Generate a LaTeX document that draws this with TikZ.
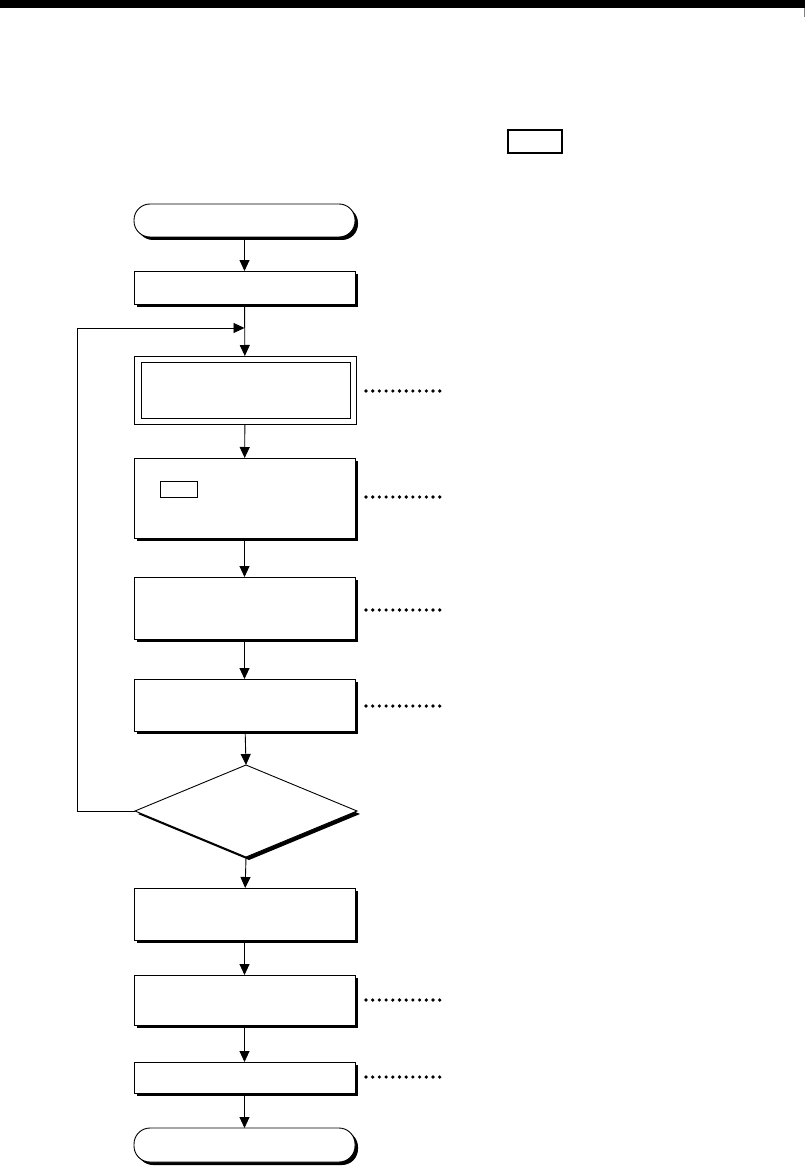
\documentclass[tikz,border=0pt]{standalone}
\usetikzlibrary{shapes.geometric,shadows,arrows.meta}
\begin{document}
\begin{tikzpicture}[x=1pt,y=-1pt,
  box/.style={draw=black,fill=white,line width=0.9pt,rectangle,inner sep=0pt,outer sep=0pt,minimum width=221pt,
    drop shadow={shadow xshift=3pt,shadow yshift=-3pt,fill=black,opacity=1}},
  term/.style={box,rounded corners=16pt},
  frame/.style={draw=black,fill=white,line width=0.9pt,rectangle,inner sep=0pt,outer sep=0pt},
  dec/.style={draw=black,fill=white,line width=0.9pt,diamond,inner sep=0pt,outer sep=0pt,minimum width=222pt,minimum height=92pt,
    drop shadow={shadow xshift=3pt,shadow yshift=-3pt,fill=black,opacity=1}},
  flow/.style={line width=0.9pt,-{Triangle[width=10pt,length=11pt]}}
]
\useasboundingbox[fill=white] (0,0) rectangle (805,1166);
% header bar
\fill[black] (0,0) rectangle (805,8);
\draw[gray,line width=0.8pt] (804,8) -- (804,17);
% small key box top right
\node[draw=black,line width=2pt,inner sep=0pt,minimum width=54pt,minimum height=23pt] (key) at (534.5,142) {};
% flow nodes
\node[term,minimum height=33pt] (start) at (244.5,220.5) {};
\node[box,minimum height=33pt] (b1) at (244.5,287.5) {};
\node[frame,minimum width=222pt,minimum height=68pt] (b2) at (245,390) {};
\node[frame,minimum width=209pt,minimum height=56pt] (b2i) at (245.5,390) {};
\node[box,minimum height=80pt] (b3) at (244.5,498) {};
\node[draw=black,line width=0.7pt,inner sep=0pt,minimum width=37pt,minimum height=16pt] (b3k) at (178.5,489) {};
\node[box,minimum height=62pt] (b4) at (244.5,608) {};
\node[box,minimum height=52pt] (b5) at (244.5,705) {};
\node[dec] (d) at (246,811) {};
\node[box,minimum height=52pt] (b6) at (244.5,914) {};
\node[box,minimum height=50pt] (b7) at (244.5,1000) {};
\node[box,minimum height=31pt] (b8) at (244.5,1077.5) {};
\node[term,minimum height=34pt] (end) at (244.5,1145) {};
% connectors
\draw[flow] (start) -- (b1);
\draw[flow] (b1) -- (b2);
\draw[flow] (b2) -- (b3);
\draw[flow] (b3) -- (b4);
\draw[flow] (b4) -- (b5);
\draw[flow] (b5) -- (d.north);
\draw[flow] (d.south) -- (b6);
\draw[flow] (b6) -- (b7);
\draw[flow] (b7) -- (b8);
\draw[flow] (b8) -- (end);
\coordinate (loopin) at (244.5,328);
\draw[flow] (d.west) -- (77,811) -- (77,328) -- (loopin);
% dotted leaders
\foreach \yy in {391,497,610,706,1000,1077}{
  \foreach \i in {0,...,11}{
    \fill[black] (366+6.7*\i,\yy) circle (1.8pt);
  }
}
\end{tikzpicture}
\end{document}
